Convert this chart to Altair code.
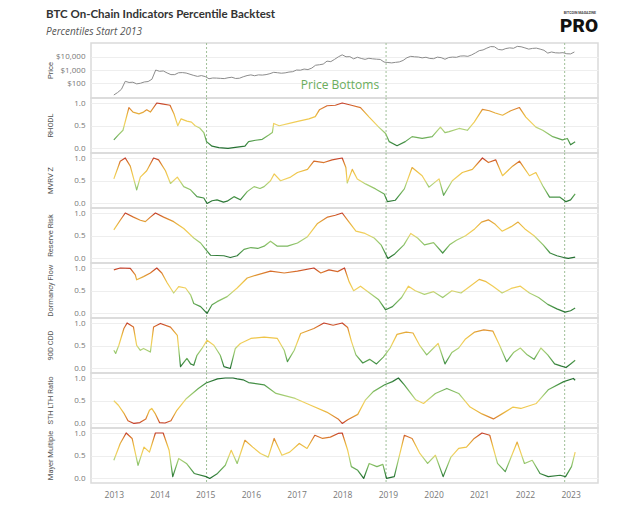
import altair as alt
import pandas as pd

# ---------------- data ----------------
PRICE_START = 2013.0
PRICE = [13, 20, 35, 140, 115, 120, 90, 100, 125, 135, 200, 1000,
         800, 850, 600, 450, 450, 620, 640, 590, 480, 390, 330, 380,
         320, 220, 250, 245, 235, 225, 260, 285, 230, 240, 310, 380,
         430, 370, 430, 415, 450, 530, 670, 625, 575, 610, 700, 750,
         1000, 970, 1180, 1080, 1400, 2300, 2500, 2800, 4700, 4300, 6400, 10000,
         14000, 10000, 10300, 7000, 9200, 7500, 6400, 7700, 7000, 6600, 6300, 4000,
         3700, 3450, 3800, 4100, 5300, 8500, 10800, 10000, 9600, 8300, 9200, 7500,
         7200, 9400, 8600, 6500, 8800, 9500, 9100, 11300, 11700, 10800, 13800, 19700,
         29000, 33000, 45000, 59000, 57000, 36000, 33000, 42000, 47000, 44000, 61000, 57000,
         47000, 38000, 43000, 45000, 38000, 31000, 19000, 23000, 20000, 19400, 20500, 17000,
         16500, 23000]

RHODL = [(2013.0, 0.19), (2013.1, 0.3), (2013.2, 0.4), (2013.33, 0.9), (2013.42, 0.8), (2013.55, 0.76),
         (2013.65, 0.8), (2013.72, 0.85), (2013.8, 0.8), (2013.94, 1.0), (2014.05, 0.98), (2014.23, 0.95),
         (2014.32, 0.75), (2014.4, 0.5), (2014.47, 0.65), (2014.6, 0.6), (2014.7, 0.58), (2014.78, 0.5),
         (2014.88, 0.45), (2014.97, 0.35), (2015.03, 0.15), (2015.15, 0.05), (2015.3, 0.02), (2015.5, 0.0),
         (2015.7, 0.03), (2015.87, 0.05), (2015.95, 0.15), (2016.1, 0.18), (2016.25, 0.2), (2016.4, 0.3),
         (2016.47, 0.35), (2016.5, 0.55), (2016.62, 0.5), (2016.84, 0.55), (2017.05, 0.6), (2017.27, 0.65),
         (2017.41, 0.7), (2017.5, 0.85), (2017.67, 0.94), (2017.85, 0.95), (2018.0, 1.0), (2018.2, 0.95),
         (2018.4, 0.9), (2018.59, 0.69), (2018.8, 0.47), (2018.95, 0.33), (2019.03, 0.15), (2019.2, 0.06),
         (2019.38, 0.15), (2019.53, 0.26), (2019.75, 0.22), (2019.97, 0.26), (2020.15, 0.47), (2020.25, 0.35),
         (2020.34, 0.37), (2020.56, 0.44), (2020.74, 0.4), (2020.89, 0.58), (2021.07, 0.86), (2021.22, 0.83),
         (2021.35, 0.78), (2021.51, 0.73), (2021.69, 0.83), (2021.88, 0.9), (2022.02, 0.69), (2022.24, 0.47),
         (2022.39, 0.4), (2022.61, 0.26), (2022.82, 0.19), (2022.93, 0.22), (2023.0, 0.08), (2023.1, 0.15)]

MVRV_Z = [(2013.0, 0.54), (2013.14, 0.93), (2013.25, 1.0), (2013.36, 0.82), (2013.5, 0.3), (2013.58, 0.58),
          (2013.72, 0.72), (2013.87, 1.0), (2013.98, 0.96), (2014.13, 0.72), (2014.24, 0.44), (2014.39, 0.58),
          (2014.53, 0.37), (2014.68, 0.3), (2014.82, 0.15), (2014.97, 0.12), (2015.04, 0.0), (2015.15, 0.06),
          (2015.26, 0.08), (2015.4, 0.03), (2015.48, 0.05), (2015.63, 0.15), (2015.77, 0.08), (2015.92, 0.26),
          (2016.07, 0.37), (2016.2, 0.33), (2016.29, 0.37), (2016.43, 0.5), (2016.51, 0.65), (2016.65, 0.5),
          (2016.87, 0.58), (2017.02, 0.68), (2017.24, 0.75), (2017.38, 0.93), (2017.6, 0.9), (2017.78, 0.96),
          (2018.0, 1.0), (2018.08, 0.79), (2018.11, 0.45), (2018.22, 0.75), (2018.33, 0.54), (2018.51, 0.43),
          (2018.73, 0.32), (2018.92, 0.21), (2018.99, 0.04), (2019.16, 0.07), (2019.36, 0.32), (2019.53, 0.79),
          (2019.75, 0.61), (2019.9, 0.36), (2020.12, 0.54), (2020.22, 0.18), (2020.41, 0.5), (2020.63, 0.68),
          (2020.85, 0.75), (2021.07, 1.0), (2021.2, 0.9), (2021.36, 0.96), (2021.51, 0.61), (2021.73, 0.82),
          (2021.88, 0.93), (2022.1, 0.61), (2022.24, 0.68), (2022.39, 0.39), (2022.54, 0.14), (2022.76, 0.14),
          (2022.9, 0.04), (2023.0, 0.08), (2023.1, 0.21)]

RESERVE_RISK = [(2013.0, 0.63), (2013.14, 0.84), (2013.25, 1.0), (2013.43, 0.91), (2013.58, 0.84), (2013.69, 0.81),
                (2013.8, 0.91), (2013.91, 1.0), (2014.09, 0.91), (2014.31, 0.81), (2014.53, 0.66), (2014.75, 0.45),
                (2014.9, 0.34), (2015.01, 0.2), (2015.12, 0.07), (2015.41, 0.06), (2015.55, 0.02), (2015.7, 0.06),
                (2015.85, 0.2), (2016.0, 0.24), (2016.15, 0.22), (2016.29, 0.27), (2016.43, 0.38), (2016.58, 0.27),
                (2016.8, 0.27), (2017.02, 0.34), (2017.24, 0.48), (2017.46, 0.77), (2017.68, 0.91), (2017.85, 0.95),
                (2018.0, 1.0), (2018.15, 0.8), (2018.3, 0.6), (2018.5, 0.55), (2018.7, 0.45), (2018.85, 0.3),
                (2019.0, 0.0), (2019.15, 0.1), (2019.35, 0.3), (2019.5, 0.55), (2019.65, 0.45), (2019.8, 0.3),
                (2020.0, 0.35), (2020.2, 0.12), (2020.35, 0.3), (2020.5, 0.4), (2020.7, 0.5), (2020.9, 0.65),
                (2021.05, 0.8), (2021.2, 0.85), (2021.35, 0.75), (2021.5, 0.6), (2021.7, 0.7), (2021.85, 0.8),
                (2022.0, 0.65), (2022.2, 0.5), (2022.4, 0.3), (2022.55, 0.12), (2022.7, 0.06), (2022.85, 0.02),
                (2022.95, 0.0), (2023.1, 0.03)]

DORMANCY_FLOW = [(2013.0, 0.96), (2013.14, 1.0), (2013.36, 0.99), (2013.47, 0.85), (2013.5, 0.74), (2013.65, 0.81),
                 (2013.8, 0.89), (2013.94, 1.0), (2014.05, 0.89), (2014.17, 0.67), (2014.31, 0.45), (2014.42, 0.59),
                 (2014.57, 0.56), (2014.68, 0.41), (2014.75, 0.22), (2014.9, 0.15), (2015.04, 0.0), (2015.15, 0.19),
                 (2015.26, 0.26), (2015.48, 0.37), (2015.7, 0.56), (2015.92, 0.78), (2016.14, 0.85), (2016.43, 0.93),
                 (2016.73, 0.89), (2017.02, 0.93), (2017.38, 1.0), (2017.53, 0.89), (2017.71, 0.96), (2017.9, 0.92),
                 (2018.05, 1.0), (2018.15, 0.7), (2018.25, 0.5), (2018.4, 0.6), (2018.6, 0.45), (2018.8, 0.3),
                 (2018.95, 0.08), (2019.1, 0.15), (2019.3, 0.35), (2019.45, 0.6), (2019.6, 0.5), (2019.8, 0.42),
                 (2020.0, 0.48), (2020.2, 0.35), (2020.4, 0.5), (2020.6, 0.45), (2020.8, 0.6), (2021.0, 0.75),
                 (2021.15, 0.7), (2021.3, 0.6), (2021.5, 0.45), (2021.7, 0.55), (2021.9, 0.6), (2022.1, 0.45),
                 (2022.3, 0.35), (2022.5, 0.2), (2022.7, 0.1), (2022.88, 0.03), (2023.0, 0.06), (2023.1, 0.12)]

CDD_90D = [(2013.0, 0.4), (2013.04, 0.33), (2013.11, 0.51), (2013.22, 0.88), (2013.29, 1.0), (2013.43, 0.91),
           (2013.5, 0.51), (2013.58, 0.4), (2013.65, 0.44), (2013.8, 0.36), (2013.87, 0.91), (2014.02, 0.99),
           (2014.24, 0.91), (2014.39, 0.73), (2014.46, 0.04), (2014.6, 0.22), (2014.68, 0.1), (2014.75, 0.07),
           (2014.82, 0.29), (2014.93, 0.44), (2015.04, 0.62), (2015.19, 0.51), (2015.33, 0.29), (2015.41, 0.04),
           (2015.55, 0.0), (2015.66, 0.44), (2015.77, 0.55), (2016.0, 0.66), (2016.29, 0.69), (2016.58, 0.66),
           (2016.73, 0.4), (2016.8, 0.15), (2016.95, 0.4), (2017.09, 0.77), (2017.38, 0.88), (2017.6, 1.0),
           (2017.8, 0.95), (2018.0, 1.0), (2018.12, 0.9), (2018.2, 0.6), (2018.3, 0.3), (2018.45, 0.12),
           (2018.6, 0.2), (2018.75, 0.1), (2018.9, 0.25), (2019.05, 0.45), (2019.2, 0.75), (2019.4, 0.8),
           (2019.55, 0.78), (2019.7, 0.5), (2019.85, 0.3), (2020.0, 0.45), (2020.1, 0.55), (2020.25, 0.1),
           (2020.4, 0.35), (2020.55, 0.45), (2020.7, 0.65), (2020.9, 0.8), (2021.1, 0.85), (2021.3, 0.82),
           (2021.45, 0.5), (2021.6, 0.15), (2021.75, 0.35), (2021.9, 0.45), (2022.05, 0.3), (2022.2, 0.2),
           (2022.35, 0.45), (2022.5, 0.3), (2022.65, 0.1), (2022.8, 0.05), (2022.9, 0.02), (2023.0, 0.1),
           (2023.1, 0.18)]

STH_LTH_RATIO = [(2013.0, 0.5), (2013.1, 0.4), (2013.23, 0.21), (2013.31, 0.06), (2013.44, 0.0), (2013.57, 0.02),
                 (2013.7, 0.1), (2013.78, 0.29), (2013.83, 0.33), (2013.91, 0.21), (2014.0, 0.02), (2014.12, 0.01),
                 (2014.25, 0.06), (2014.38, 0.29), (2014.59, 0.55), (2014.85, 0.77), (2015.02, 0.89), (2015.27, 0.98),
                 (2015.44, 1.0), (2015.61, 1.0), (2015.7, 0.98), (2015.83, 0.96), (2015.95, 0.9), (2016.29, 0.85),
                 (2016.55, 0.66), (2016.97, 0.55), (2017.31, 0.4), (2017.66, 0.25), (2017.91, 0.1), (2018.0, 0.0),
                 (2018.12, 0.08), (2018.34, 0.2), (2018.51, 0.52), (2018.68, 0.7), (2018.93, 0.85), (2019.1, 0.92),
                 (2019.23, 1.0), (2019.36, 0.85), (2019.61, 0.52), (2019.78, 0.44), (2020.04, 0.66), (2020.29, 0.77),
                 (2020.55, 0.66), (2020.8, 0.36), (2021.06, 0.21), (2021.31, 0.1), (2021.48, 0.2), (2021.74, 0.36),
                 (2021.91, 0.33), (2022.25, 0.44), (2022.51, 0.74), (2022.85, 0.92), (2023.06, 0.99), (2023.1, 0.95)]

MAYER_MULTIPLE = [(2013.0, 0.4), (2013.14, 0.77), (2013.27, 1.0), (2013.4, 0.88), (2013.53, 0.29), (2013.66, 0.69),
                  (2013.78, 0.58), (2013.91, 1.0), (2014.08, 1.0), (2014.21, 0.62), (2014.29, 0.04), (2014.42, 0.44),
                  (2014.59, 0.33), (2014.76, 0.11), (2015.02, 0.04), (2015.1, 0.0), (2015.27, 0.11), (2015.44, 0.29),
                  (2015.57, 0.62), (2015.7, 0.33), (2015.87, 0.84), (2016.04, 0.69), (2016.21, 0.55), (2016.38, 0.47),
                  (2016.51, 0.88), (2016.68, 0.51), (2016.85, 0.58), (2017.06, 0.77), (2017.23, 0.66), (2017.4, 0.95),
                  (2017.57, 0.88), (2017.74, 0.91), (2017.91, 0.99), (2018.0, 1.0), (2018.12, 0.62), (2018.2, 0.26),
                  (2018.34, 0.18), (2018.47, 0.0), (2018.59, 0.33), (2018.76, 0.26), (2018.89, 0.31), (2018.97, 0.0),
                  (2019.14, 0.04), (2019.36, 0.95), (2019.53, 0.88), (2019.7, 0.55), (2019.87, 0.33), (2020.04, 0.51),
                  (2020.21, 0.04), (2020.38, 0.47), (2020.55, 0.66), (2020.72, 0.69), (2020.89, 0.88), (2021.06, 1.0),
                  (2021.23, 0.95), (2021.4, 0.33), (2021.57, 0.15), (2021.83, 0.8), (2021.99, 0.33), (2022.16, 0.4),
                  (2022.33, 0.11), (2022.51, 0.04), (2022.77, 0.07), (2022.89, 0.04), (2023.02, 0.26), (2023.1, 0.58)]

PRICE_BOTTOMS = [2015.03, 2018.96, 2022.87]
YEAR_TICKS = list(range(2013, 2024))
PRICE_TICKS = [100, 1000, 10000]
PCT_TICKS = [0.0, 0.5, 1.0]

TITLE = "BTC On-Chain Indicators Percentile Backtest"
SUBTITLE = "Percentiles Start 2013"

# ---------------- styling ----------------
W, H = 507, 55
X_DOMAIN = [2012.5, 2023.6]
FONT = "Open Sans"
STOPS = [(0.0, "#c23a2a"), (0.08, "#d8702c"), (0.2, "#e4a83a"), (0.32, "#efc548"),
         (0.48, "#f1d262"), (0.56, "#b5d47a"), (0.7, "#88c066"), (0.85, "#4c984a"), (1.0, "#1f6a2e")]


def grad(reverse=False):
    return alt.Gradient(
        gradient="linear",
        stops=[alt.GradientStop(offset=o, color=c) for o, c in STOPS],
        x1=0, x2=0, y1=1 if reverse else 0, y2=0 if reverse else 1,
    )


xscale = alt.Scale(domain=X_DOMAIN, nice=False, zero=False)
bottom_axis = alt.Axis(values=YEAR_TICKS, format="d", title=None, grid=False, domain=False,
                       ticks=False, labelPadding=7, labelFontSize=8.5, labelColor="#777")
bottoms_df = pd.DataFrame({"year": PRICE_BOTTOMS})


def yaxis(values, fmt):
    return alt.Axis(values=values, format=fmt, title=None,
                    labelFontSize=8, labelColor="#777", labelPadding=6, domain=False, ticks=False,
                    grid=True, gridColor="#eeeeee")


def ytitle(name):
    df = pd.DataFrame({"t": [name]})
    return alt.Chart(df).mark_text(angle=270, align="center", baseline="middle", fontSize=7.5,
                                   font="Roboto", color="#555555").encode(
        x=alt.value(-40), y=alt.value(H / 2), text="t:N")


def rules(axis):
    return alt.Chart(bottoms_df).mark_rule(strokeDash=[2, 2], color="#9fbf98", strokeWidth=1).encode(
        x=alt.X("year:Q", scale=xscale, axis=axis))


def panel(name, pts, reverse=False, bottom=False):
    df = pd.DataFrame(pts, columns=["year", "value"])
    ax = bottom_axis if bottom else None
    line = alt.Chart(df).mark_line(stroke=grad(reverse), strokeWidth=1.2, strokeJoin="round").encode(
        x=alt.X("year:Q", scale=xscale, axis=ax),
        y=alt.Y("value:Q", scale=alt.Scale(domain=[-0.1, 1.11], nice=False, zero=False),
                axis=yaxis(PCT_TICKS, ".1f")),
    )
    return alt.layer(rules(ax), line, ytitle(name)).properties(width=W, height=H)


# price panel
price_df = pd.DataFrame({"year": [PRICE_START + i / 12 for i in range(len(PRICE))], "price": PRICE})
price_line = alt.Chart(price_df).mark_line(color="#8c8c8c", strokeWidth=1).encode(
    x=alt.X("year:Q", scale=xscale, axis=None),
    y=alt.Y("price:Q", scale=alt.Scale(type="log", domain=[7.7, 110000], nice=False),
            axis=yaxis(PRICE_TICKS, "$,.0f")),
)
label_df = pd.DataFrame({"year": [2017.95], "label": ["Price Bottoms"]})
price_label = alt.Chart(label_df).mark_text(color="#6aad5c", fontSize=12, font=FONT).encode(
    x=alt.X("year:Q", scale=xscale, axis=None), y=alt.value(42), text="label:N")

title_df = pd.DataFrame({"t": [TITLE]})
sub_df = pd.DataFrame({"t": [SUBTITLE]})
title_mark = alt.Chart(title_df).mark_text(align="left", baseline="middle", fontSize=11.5, fontWeight="bold",
                                           font="Lato", color="#333333").encode(
    x=alt.value(-45), y=alt.value(-28), text="t:N")
sub_mark = alt.Chart(sub_df).mark_text(align="left", baseline="middle", fontSize=10, fontStyle="italic",
                                       font=FONT, color="#555555").encode(
    x=alt.value(-45), y=alt.value(-11), text="t:N")
logo_df = pd.DataFrame({"t": ["PRO"]})
logo_small_df = pd.DataFrame({"t": ["BITCOIN MAGAZINE"]})
logo_mark = alt.Chart(logo_df).mark_text(align="right", baseline="middle", fontSize=19, fontWeight=900,
                                         font="Roboto", color="#111111").encode(
    x=alt.value(507), y=alt.value(-17), text="t:N")
logo_small = alt.Chart(logo_small_df).mark_text(align="right", baseline="middle", fontSize=3.5, fontWeight="bold",
                                                font="Roboto", color="#444444").encode(
    x=alt.value(505), y=alt.value(-30), text="t:N")

price_panel = alt.layer(rules(None), price_line, price_label, title_mark, sub_mark,
                        logo_mark, logo_small, ytitle("Price")).properties(width=W, height=H)

chart = alt.vconcat(
    price_panel,
    panel("RHODL", RHODL),
    panel("MVRV Z", MVRV_Z),
    panel("Reserve Risk", RESERVE_RISK),
    panel("Dormancy Flow", DORMANCY_FLOW),
    panel("90D CDD", CDD_90D),
    panel("STH LTH Ratio", STH_LTH_RATIO, reverse=True),
    panel("Mayer Multiple", MAYER_MULTIPLE, bottom=True),
    spacing=0,
    bounds="flush",
).properties(
    padding={"left": 37, "top": 0, "right": 10, "bottom": 5},
    background="white",
).configure_view(
    stroke="#dadada", strokeWidth=1.5
).configure_axis(
    labelFont=FONT, titleFont=FONT
)

chart.save("out.html", embed_options={"renderer": "svg", "actions": False})
